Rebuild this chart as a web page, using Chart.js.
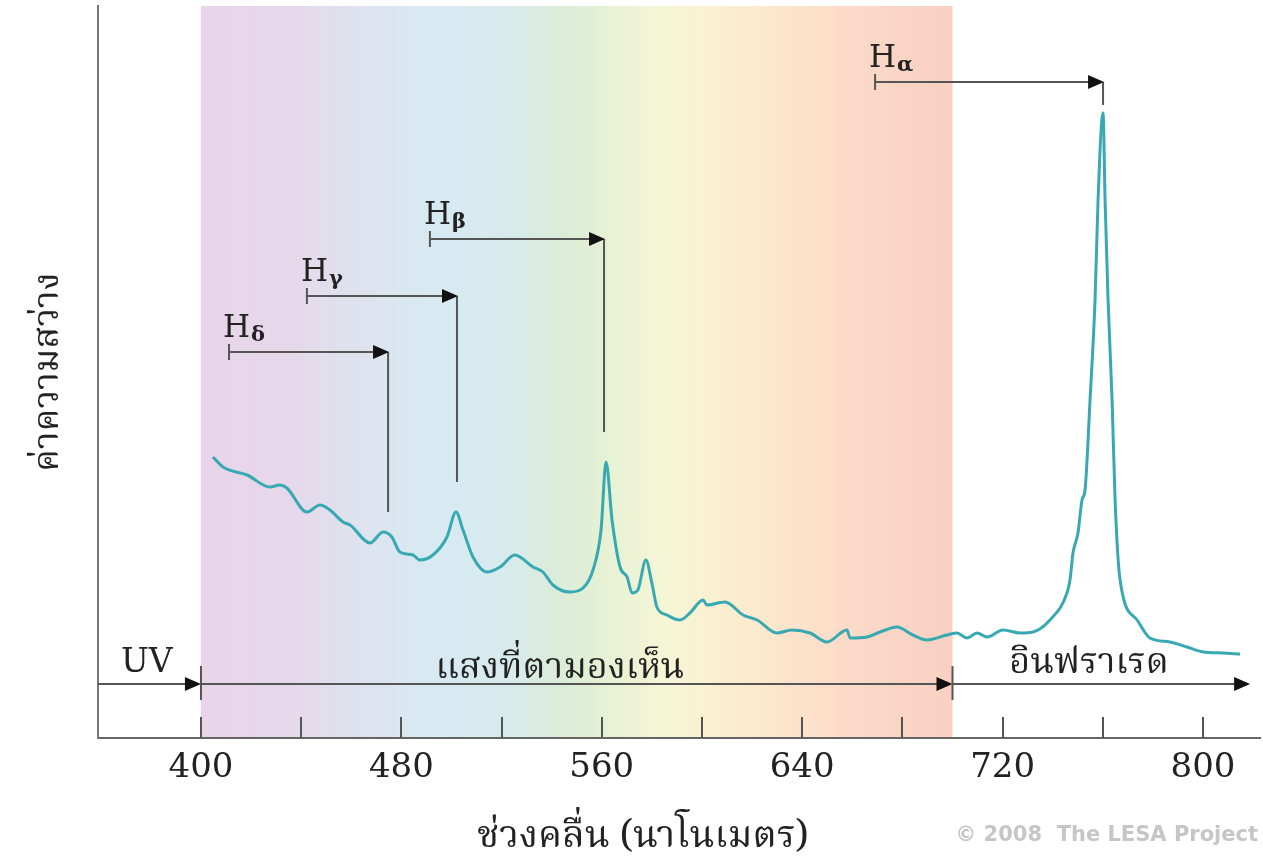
<!DOCTYPE html>
<html>
<head>
<meta charset="utf-8">
<script src="https://cdn.jsdelivr.net/npm/chart.js@4.4.1/dist/chart.umd.min.js"></script>
<style>
  html, body { margin: 0; padding: 0; background: #fff; }
</style>
</head>
<body>
<canvas id="spectrum" width="1263" height="856"></canvas>
<script>
// wavelength in nm and brightness (relative units)
var waveNm = [404.8, 408.8, 418.4, 427.5, 431.5, 434.3, 442.3, 447.5, 451.5, 456.7,
  459.5, 467.5, 472.7, 476.2, 479.4, 484.6, 487.4, 492.6, 498.2, 501.8,
  504.6, 508.6, 514.2, 519.4, 525.3, 532.5, 536.5, 540.5, 547.3, 552.5,
  556.5, 559.7, 561.7, 564.1, 567.3, 570.1, 572.1, 574.4, 577.6, 580.0,
  582.0, 586.0, 591.2, 595.2, 600.4, 602.0, 609.2, 616.4, 622.0, 629.9,
  635.9, 643.1, 649.9, 657.9, 659.1, 665.9, 671.1, 677.8, 684.2, 689.8,
  697.8, 701.8, 705.8, 709.8, 713.8, 720.2, 727.0, 732.1, 738.9, 745.7,
  746.9, 748.1, 750.1, 751.7, 752.9, 754.9, 756.9, 758.1, 760.1, 760.9,
  762.1, 763.7, 764.9, 766.9, 773.7, 778.8, 786.8, 793.6, 800.0, 808.0, 814.8];
var brightness = [281, 271, 263, 251, 253, 250, 226, 233, 228, 216,
  213, 195, 206, 201, 186, 183, 178, 183, 201, 226,
  208, 181, 166, 171, 183, 171, 166, 153, 146, 150,
  168, 208, 276, 218, 171, 161, 145, 148, 178, 155,
  131, 123, 118, 125, 138, 133, 136, 123, 118, 105,
  108, 105, 96, 108, 100, 101, 106, 111, 103, 98,
  103, 105, 100, 105, 101, 108, 105, 106, 118, 145,
  158, 185, 205, 238, 248, 338, 438, 538, 625, 538,
  438, 338, 238, 158, 118, 100, 96, 91, 86, 85, 84];

var axisTicks = [400, 440, 480, 520, 560, 600, 640, 680, 720, 760, 800];

// hydrogen lines: name, start of arrow, line position, arrow level, lower end of the drop line
var lineNames = ['δ', 'γ', 'β', 'α'];
var lineFrom = [411.2, 442.3, 491.4, 669.1];
var lineAt = [474.7, 502.2, 560.9, 760.1];
var lineLevel = [386, 442, 499, 656];
var lineDrop = [226, 256, 306, 633];

// ranges below the curve
var bandNames = ['UV', 'แสงที่ตามองเห็น', 'อินฟราเรด'];
var bandFrom = [358.9, 400, 700];
var bandTo = [400, 700, 818.8];
var bandLabelAt = [378.4, 543.3, 754.5];

var thaiFont = '"Noto Serif Thai", "Noto Sans Thai", "Loma", "Garuda", "DejaVu Serif", serif';

var spectrumBand = {
  id: 'spectrumBand',
  beforeDraw: function(chart) {
    var ctx = chart.ctx, area = chart.chartArea;
    var x0 = chart.scales.x.getPixelForValue(400);
    var x1 = chart.scales.x.getPixelForValue(700);
    var g = ctx.createLinearGradient(x0, 0, x1, 0);
    g.addColorStop(0.00, '#e9d4e9');
    g.addColorStop(0.12, '#e6d8ea');
    g.addColorStop(0.20, '#dfe2ee');
    g.addColorStop(0.30, '#d8e9f2');
    g.addColorStop(0.40, '#d7ebef');
    g.addColorStop(0.48, '#dbecd8');
    g.addColorStop(0.55, '#e8f2d4');
    g.addColorStop(0.62, '#f6f6d6');
    g.addColorStop(0.70, '#fbeed0');
    g.addColorStop(0.80, '#fde2cb');
    g.addColorStop(0.90, '#fad7c7');
    g.addColorStop(1.00, '#f9d0c2');
    ctx.save();
    ctx.fillStyle = g;
    ctx.fillRect(x0, area.top, x1 - x0, area.bottom - area.top);
    ctx.restore();
  }
};

function arrowHead(ctx, x, y) {
  ctx.beginPath();
  ctx.moveTo(x, y);
  ctx.lineTo(x - 16, y - 7);
  ctx.lineTo(x - 16, y + 7);
  ctx.closePath();
  ctx.fill();
}

var overlay = {
  id: 'overlay',
  afterDatasetsDraw: function(chart) {
    var ctx = chart.ctx, xs = chart.scales.x, ys = chart.scales.y;
    var bottom = chart.chartArea.bottom;
    ctx.save();
    ctx.strokeStyle = '#555';
    ctx.fillStyle = '#111';
    ctx.lineWidth = 2;

    // ticks point up into the plot
    axisTicks.forEach(function(v) {
      var x = Math.round(xs.getPixelForValue(v));
      ctx.beginPath();
      ctx.moveTo(x, bottom);
      ctx.lineTo(x, bottom - 21);
      ctx.stroke();
    });

    // UV / visible / infrared arrows
    var rowY = ys.getPixelForValue(54);
    for (var i = 0; i < bandNames.length; i++) {
      var a = xs.getPixelForValue(bandFrom[i]), b = xs.getPixelForValue(bandTo[i]);
      ctx.beginPath();
      ctx.moveTo(a, rowY);
      ctx.lineTo(b - 8, rowY);
      ctx.stroke();
      arrowHead(ctx, b, rowY);
      if (i > 0) {
        ctx.beginPath();
        ctx.moveTo(a, ys.getPixelForValue(72));
        ctx.lineTo(a, ys.getPixelForValue(38));
        ctx.stroke();
      }
    }
    ctx.fillStyle = '#222';
    ctx.textAlign = 'center';
    ctx.textBaseline = 'alphabetic';
    ctx.font = '33px "DejaVu Serif"';
    ctx.fillText(bandNames[0], xs.getPixelForValue(bandLabelAt[0]), ys.getPixelForValue(66));
    ctx.font = '36px ' + thaiFont;
    ctx.fillText(bandNames[1], xs.getPixelForValue(bandLabelAt[1]), ys.getPixelForValue(60));
    ctx.fillText(bandNames[2], xs.getPixelForValue(bandLabelAt[2]), ys.getPixelForValue(65));

    // hydrogen line markers
    for (var j = 0; j < lineNames.length; j++) {
      var s = xs.getPixelForValue(lineFrom[j]);
      var e = xs.getPixelForValue(lineAt[j]);
      var y = ys.getPixelForValue(lineLevel[j]);
      ctx.strokeStyle = '#555';
      ctx.fillStyle = '#111';
      ctx.beginPath();
      ctx.moveTo(s, y - 8);
      ctx.lineTo(s, y + 8);
      ctx.moveTo(s, y);
      ctx.lineTo(e - 8, y);
      ctx.moveTo(e, y);
      ctx.lineTo(e, ys.getPixelForValue(lineDrop[j]));
      ctx.stroke();
      arrowHead(ctx, e + 1, y);

      ctx.fillStyle = '#222';
      ctx.textAlign = 'left';
      ctx.font = '31px "DejaVu Serif"';
      ctx.fillText('H', s - 6, y - 15);
      var w = ctx.measureText('H').width;
      ctx.font = 'bold 21px "DejaVu Serif"';
      ctx.fillText(lineNames[j], s - 5 + w, y - 11);
    }

    // axis title and credit
    ctx.textAlign = 'center';
    ctx.fillStyle = '#222';
    ctx.font = '38px ' + thaiFont;
    ctx.fillText('ช่วงคลื่น (นาโนเมตร)', 643, 847);
    ctx.textAlign = 'right';
    ctx.fillStyle = '#c6c6c6';
    ctx.font = 'bold 21px "DejaVu Sans"';
    ctx.fillText('© 2008  The LESA Project', 1258, 841);
    ctx.restore();
  }
};

new Chart(document.getElementById('spectrum'), {
  type: 'line',
  data: {
    datasets: [{
      data: waveNm.map(function(w, i) { return { x: w, y: brightness[i] }; }),
      borderColor: '#38a9b3',
      borderWidth: 3,
      pointRadius: 0,
      cubicInterpolationMode: 'monotone',
      fill: false
    }]
  },
  options: {
    responsive: false,
    devicePixelRatio: 1,
    animation: false,
    layout: { padding: { top: 6, right: 3, left: 0, bottom: 0 } },
    plugins: { legend: { display: false }, tooltip: { enabled: false } },
    scales: {
      x: {
        type: 'linear',
        min: 358.9,
        max: 822.75,
        afterBuildTicks: function(scale) {
          scale.ticks = axisTicks.map(function(v) { return { value: v }; });
        },
        afterFit: function(scale) { scale.height = 118; },
        ticks: {
          autoSkip: false,
          maxRotation: 0,
          padding: 10,
          color: '#222',
          font: { family: 'DejaVu Serif', size: 34 },
          callback: function(v) { return (v - 400) % 80 === 0 ? v : ''; }
        },
        grid: { display: false, drawTicks: false },
        border: { display: true, color: '#666', width: 2 }
      },
      y: {
        min: 0,
        max: 732,
        afterFit: function(scale) { scale.width = 98; },
        ticks: { display: false },
        grid: { display: false, drawTicks: false },
        border: { display: true, color: '#777', width: 2 },
        title: {
          display: true,
          text: 'ค่าความสว่าง',
          color: '#222',
          padding: { top: 30, bottom: 0 },
          font: { family: thaiFont, size: 36 }
        }
      }
    }
  },
  plugins: [spectrumBand, overlay]
});
</script>
</body>
</html>
